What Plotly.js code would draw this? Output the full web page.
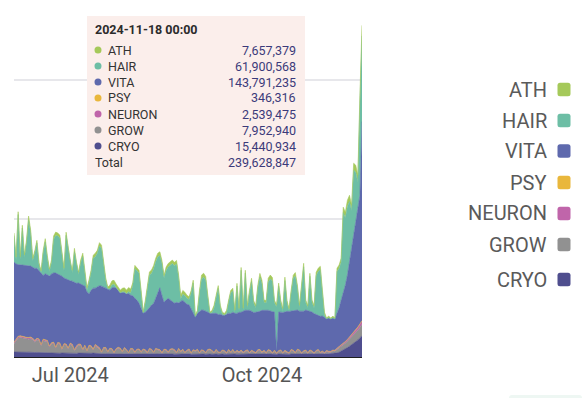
<!DOCTYPE html>
<html><head><meta charset="utf-8">
<script src="https://cdn.plot.ly/plotly-3.0.1.min.js"></script>
<style>html,body{margin:0;padding:0;background:#fff;}#chart{width:588px;height:398px;}</style>
</head><body><div id="chart"></div>
<script>
// ---- data (values in millions) ----
const startDate = '2024-06-04';
const seriesNames = ['ATH','HAIR','VITA','PSY','NEURON','GROW','CRYO'];
const seriesColors = ['#a5c95a','#6dbea5','#5e69ad','#e9b73c','#c065aa','#919191','#4f4e8e'];

const ATH = [2.0,2.2,2.0,2.0,2.0,2.0,1.8,3.0,2.0,1.8, 1.8,1.8,1.8,1.2,1.8,2.5,1.8,1.8,1.8,2.5,
 2.5,2.2,2.0,1.8,2.0,2.2,2.0,1.8,2.0,2.5, 1.8,2.0,2.0,2.5,1.8,2.0,1.8,1.8,2.2,2.5,
 2.2,2.5,2.2,1.8,2.0,1.2,2.5,3.0,2.8,2.5, 2.5,2.0,2.5,3.0,2.5,3.0,2.8,2.0,2.2,2.0,
 2.0,1.8,0.7,1.8,2.0,2.2,2.5,2.5,2.5,2.8, 2.8,2.2,2.0,2.5,2.5,2.2,2.5,2.5,2.5,2.0,
 2.5,2.8,2.5,2.2,2.0,2.0,2.0,1.0,1.5,2.5, 2.8,2.8,2.5,1.8,0.7,1.5,2.0,1.8,2.0,1.8,
 1.5,1.2,2.0,1.8,1.8,1.8,1.5,2.0,1.8,2.0, 1.5,2.0,2.0,1.8,2.5,1.8,1.8,2.0,2.8,2.5,
 1.8,1.8,2.5,2.8,2.5,1.8,1.5,2.2,1.8,1.8, 2.5,1.8,1.5,1.8,2.2,2.5,2.0,1.8,2.0,2.5,
 1.8,1.8,2.2,1.8,1.8,2.5,2.5,2.5,2.0,2.0, 0.6,1.3,0.6,1.3,0.6,2.5,2.5,3.0,4.0,4.0,
 4.5,4.5,4.0,5.0,5.0,5.0,6.0,7.657379];

const HAIR = [19.0,2.9,36.2,3.8,26.8,5.9,16.9,33.0,23.9,4.7, 11.2,18.4,3.9,0.3,16.2,22.8,11.9,3.2,8.3,24.2,
 27.1,27.4,26.8,17.0,5.2,31.7,23.2,11.9,6.0,22.0, 13.3,5.9,15.3,20.6,9.8,0.9,8.3,12.7,21.6,22.7,
 24.5,28.6,27.4,16.2,5.2,0.2,1.1,2.0,2.3,0.4, 0.4,0.1,0.4,0.6,0.3,1.3,1.6,7.4,21.6,21.1,
 21.8,11.1,0.1,6.8,16.0,23.7,22.8,24.9,26.3,25.3, 23.2,23.1,17.5,21.3,22.7,25.2,27.8,27.0,27.8,18.2,
 1.8,4.4,4.7,4.3,3.8,10.9,21.1,0.4,0.7,12.6, 22.5,23.9,22.7,10.4,0.1,0.7,3.8,11.2,18.9,4.7,
 0.7,0.2,0.9,7.6,14.8,15.5,0.7,19.7,1.1,30.4, 0.7,26.9,1.6,12.6,21.3,6.8,3.2,17.4,24.6,19.2,
 5.4,5.4,20.6,23.2,22.0,6.8,32.2,18.7,6.8,1.1, 22.7,6.1,0.7,13.3,23.1,24.9,16.0,2.5,20.4,32.1,
 5.4,1.8,25.2,6.8,4.0,27.8,31.4,33.6,16.7,1.6, 0.1,0.2,0.1,0.2,0.1,30.0,28.5,27.3,58.0,48.7,
 49.6,43.9,28.5,49.1,38.3,20.2,66.1,61.900568];

const VITA = [57.9,54.5,51.8,51.3,51.6,51.1,51.5,51.7,51.3,51.3, 52.1,50.6,49.4,51.7,46.0,47.8,47.5,50.6,49.8,50.0,
 53.5,49.5,49.1,52.3,47.4,46.9,49.0,45.0,45.7,48.7, 45.3,44.0,43.6,46.3,42.6,42.5,37.1,40.2,44.0,40.7,
 42.9,44.9,47.4,43.7,43.2,45.1,42.0,44.0,46.9,43.8, 40.8,39.8,42.6,39.6,40.2,42.6,38.5,38.2,38.8,35.5,
 33.0,31.4,25.9,27.1,30.3,29.4,31.9,35.2,36.3,41.1, 44.8,41.3,33.9,35.8,38.8,35.5,33.7,33.6,36.1,32.8,
 36.1,35.3,36.3,33.2,31.9,32.1,27.1,24.3,25.9,29.8, 28.7,29.1,29.6,27.1,25.9,26.7,28.4,26.1,27.0,27.6,
 25.1,25.5,27.7,26.3,27.9,26.9,28.3,26.7,28.7,27.3, 29.7,29.3,28.5,30.6,28.2,28.2,29.1,27.3,27.6,30.1,
 29.1,30.5,28.5,28.4,29.9,27.5,1.2,27.9,27.3,29.1, 27.7,29.2,29.9,27.8,28.9,30.4,28.3,28.0,29.9,28.6,
 28.9,30.5,28.0,28.1,28.4,26.2,24.9,26.0,25.3,25.6, 22.8,24.0,23.4,23.1,22.6,25.4,28.0,32.7,36.3,40.6,
 46.5,54.1,61.2,68.2,75.6,84.5,93.0,143.791235];

const PSY = [0.3,0.3,0.35,0.3,0.3,0.28,0.3,0.32,0.3,0.28,0.3,0.3,0.27,0.25,0.3,0.3,0.28,0.26,
 0.25,0.26,0.24,0.25,0.27,0.23,0.25,0.26,0.24,0.25,0.25,0.22,0.24,0.26,0.25,0.23,0.25,0.22,0.24,0.25,0.23,0.26,0.24,
 0.22,0.2,0.21,0.22,0.19,0.2,0.21,0.18,0.2,0.22, 0.21,0.19,0.2,0.21,0.18,0.2,0.22,0.19,0.2,0.21,
 0.19,0.2,0.21,0.18,0.2,0.21,0.19,0.2,0.22,0.21, 0.18,0.2,0.21,0.19,0.2,0.21,0.2,0.18,0.21,0.19,
 0.2,0.18,0.2,0.21,0.18,0.2,0.19,0.2,0.18,0.2, 0.2,0.19,0.21,0.2,0.18,0.19,0.2,0.18,0.19,0.2,
 0.2,0.18,0.2,0.19,0.2,0.18,0.2,0.19,0.2,0.18, 0.2,0.19,0.18,0.2,0.19,0.18,0.2,0.21,0.19,0.2,
 0.18,0.2,0.21,0.18,0.2,0.17,0.2,0.21,0.18,0.2, 0.19,0.18,0.2,0.21,0.19,0.2,0.21,0.18,0.2,0.21,
 0.18,0.2,0.21,0.19,0.2,0.21,0.19,0.2,0.18,0.2,
 0.2,0.2,0.2,0.2,0.2,0.2,0.22,0.24,0.25,0.26,0.27,0.28,0.3,0.31,0.32,0.33,0.346316];

const NEURON = [0.8,0.9,1.0,1.0,0.9,1.0,0.9,0.9,1.0,0.8,0.9,0.9,0.8,0.7,0.8,0.9,0.8,0.7,
 0.6,0.7,0.5,0.6,0.7,0.5,0.6,0.6,0.5,0.7,0.6,0.5,0.6,0.6,0.7,0.5,0.6,0.4,0.6,0.6,0.5,0.7,0.6,
 0.5,0.3,0.4,0.5,0.3,0.4,0.5,0.3,0.4,0.5, 0.4,0.3,0.5,0.4,0.3,0.4,0.5,0.3,0.4,0.4,
 0.3,0.4,0.4,0.3,0.5,0.4,0.3,0.4,0.4,0.5, 0.3,0.4,0.5,0.3,0.4,0.4,0.5,0.3,0.4,0.3,
 0.4,0.3,0.4,0.5,0.3,0.4,0.3,0.4,0.3,0.4, 0.4,0.3,0.4,0.4,0.3,0.3,0.4,0.3,0.3,0.4,
 0.4,0.3,0.4,0.3,0.4,0.3,0.4,0.3,0.4,0.3, 0.4,0.4,0.3,0.4,0.3,0.3,0.4,0.4,0.3,0.4,
 0.3,0.4,0.4,0.3,0.4,0.3,0.4,0.4,0.3,0.4, 0.3,0.3,0.4,0.4,0.3,0.4,0.4,0.3,0.4,0.4,
 0.3,0.4,0.4,0.3,0.4,0.4,0.3,0.4,0.3,0.4,
 0.4,0.4,0.5,0.5,0.6,0.7,0.8,0.9,1.0,1.1,1.3,1.4,1.6,1.8,2.0,2.3,2.539475];

const GROW = [6.0,8.0,10.0,10.5,10.2,10.0,9.6,9.4,9.8,9.0,7.5,9.0,8.8,5.0,8.6,8.2,7.8,4.0,
 6.5,7.0,3.5,6.8,6.5,2.5,6.0,5.8,3.0,6.2,5.5,1.8,4.5,5.8,5.5,2.0,5.0,1.5,4.8,4.5,2.2,5.5,4.0,
 3.5,1.0,4.0,3.8,1.2,3.5,3.0,0.8,3.2,4.0, 3.6,1.5,3.8,2.5,0.8,3.4,3.0,1.0,2.8,3.2,
 1.2,3.0,2.6,0.8,3.2,2.8,1.0,3.5,3.0,2.2, 0.6,3.0,2.5,1.0,2.8,3.2,2.6,0.8,3.4,1.5,
 3.0,0.6,2.2,2.8,0.5,2.6,1.8,3.0,0.6,2.4, 2.0,0.8,2.6,3.0,2.2,0.5,2.8,1.2,0.6,2.4,
 2.0,0.5,2.6,1.0,2.8,0.6,2.2,1.0,2.4,0.7, 1.8,2.6,0.5,2.2,1.5,0.6,2.4,2.8,1.0,2.0,
 0.6,2.6,2.0,0.5,2.2,0.3,1.8,2.4,0.6,2.0, 1.2,0.5,2.6,2.2,0.7,2.8,2.4,0.5,1.8,2.2,
 0.6,2.4,1.6,0.5,2.0,2.6,0.8,1.5,0.5,1.8,
 1.2,1.0,1.8,1.5,2.5,3.0,3.2,3.8,4.2,4.5,5.0,5.5,6.0,6.5,7.0,7.5,7.95294];

const CRYO = [3.6,3.5,3.6,3.5,3.4,3.5,3.4,3.5,3.3,3.4,3.2,3.3,3.2,3.1,3.2,3.0,3.1,3.0,
 2.9,2.8,2.9,2.8,2.7,2.9,2.8,2.7,2.8,2.9,2.7,2.8,2.6,2.8,2.7,2.9,2.7,2.6,2.8,2.7,2.8,2.6,2.7,
 2.4,2.3,2.2,2.4,2.3,2.2,2.3,2.1,2.2,2.3, 2.2,2.1,2.3,2.2,2.0,2.2,2.3,2.1,2.2,2.0,
 2.1,2.2,2.0,2.1,2.3,2.2,2.0,2.1,2.2,2.3, 2.1,2.0,2.2,2.1,2.3,2.2,2.0,2.1,2.2,2.1,
 2.0,2.2,2.1,2.3,2.0,2.1,2.2,2.0,2.1,2.2, 2.1,2.0,2.2,2.1,2.0,2.2,2.1,2.0,2.2,2.1,
 2.0,2.1,2.2,2.0,2.1,2.2,2.0,2.1,2.0,2.2, 2.1,2.0,2.2,2.1,2.0,2.1,2.2,2.0,2.1,2.2,
 2.0,2.1,2.2,2.0,2.1,2.0,2.2,2.1,2.0,2.2, 2.1,2.0,2.2,2.1,2.0,2.2,2.1,2.0,2.1,2.2,
 2.0,2.1,2.2,2.0,2.1,2.2,2.1,2.2,2.1,2.3,
 2.3,2.4,2.5,2.6,3.0,3.5,4.2,5.0,5.8,6.8,7.8,8.8,9.8,11.0,12.3,13.8,15.440934];

const seriesValues = {ATH, HAIR, VITA, PSY, NEURON, GROW, CRYO};

// ---- dates (consecutive days) ----
const n = ATH.length;
const dates = [];
{
  const t0 = Date.parse(startDate + 'T00:00:00Z');
  for (let i = 0; i < n; i++) dates.push(new Date(t0 + i * 86400000).toISOString().slice(0, 10));
}

// ---- geometry helpers ----
const W = 588, H = 398, ML = 14, MR = 226, MT = 11, MB = 41;
const PW = W - ML - MR, PH = H - MT - MB;
const px = x => (x - ML) / PW;
const py = y => (H - MB - y) / PH;

// ---- traces (stack bottom -> top) ----
const stackOrder = seriesNames.slice().reverse();
const traces = stackOrder.map(name => {
  const idx = seriesNames.indexOf(name);
  return {
    type: 'scatter', mode: 'lines', name: name,
    x: dates, y: seriesValues[name].map(v => v * 1e6),
    stackgroup: 'one',
    line: {color: seriesColors[idx], width: 0.6, shape: 'linear'},
    fillcolor: seriesColors[idx],
    hoverinfo: 'skip', showlegend: false
  };
});

// ---- tooltip & legend built from data ----
const fmt = v => Math.round(v).toLocaleString('en-US');
const shapes = [];
const annotations = [];
const tipFont = {family: 'Roboto, sans-serif', size: 12.5, color: '#333333'};
const valFont = {family: 'Roboto, sans-serif', size: 12.5, color: '#3b3a7a'};

shapes.push({type: 'rect', xref: 'paper', yref: 'paper', layer: 'above',
  x0: px(87), x1: px(305), y0: py(175), y1: py(16),
  fillcolor: '#fbeeeb', line: {width: 0}});

const lastDate = dates[n - 1] + ' 00:00';
annotations.push({xref: 'paper', yref: 'paper', x: px(93), y: py(29.5), xanchor: 'left', yanchor: 'middle',
  text: '<b>' + lastDate + '</b>', showarrow: false, font: {family: 'Roboto, sans-serif', size: 12.5, color: '#2b2b2b'}});

let total = 0;
seriesNames.forEach((name, k) => {
  const v = seriesValues[name][n - 1] * 1e6;
  total += Math.round(v);
  const yc = 50 + 16 * k;
  shapes.push({type: 'circle', xref: 'paper', yref: 'paper', layer: 'above',
    x0: px(94.5), x1: px(101.5), y0: py(yc + 3.5), y1: py(yc - 3.5),
    fillcolor: seriesColors[k], line: {width: 0}});
  annotations.push({xref: 'paper', yref: 'paper', x: px(105.5), y: py(yc), xanchor: 'left', yanchor: 'middle',
    text: name, showarrow: false, font: tipFont});
  annotations.push({xref: 'paper', yref: 'paper', x: px(298), y: py(yc), xanchor: 'right', yanchor: 'middle',
    text: fmt(v), showarrow: false, font: valFont});
});
annotations.push({xref: 'paper', yref: 'paper', x: px(93), y: py(162), xanchor: 'left', yanchor: 'middle',
  text: 'Total', showarrow: false, font: tipFont});
annotations.push({xref: 'paper', yref: 'paper', x: px(298), y: py(162), xanchor: 'right', yanchor: 'middle',
  text: fmt(total), showarrow: false, font: valFont});

// legend (labels right-aligned, swatch on the right)
const legendY = [89.5, 120.5, 151, 182.5, 213.5, 244.5, 279.5];
function roundRect(x0, y0, x1, y1, r) {
  const rx = r / PW, ry = r / PH;
  const X0 = px(x0), X1 = px(x1), Y0 = py(y1), Y1 = py(y0);
  return `M ${X0 + rx},${Y0} L ${X1 - rx},${Y0} Q ${X1},${Y0} ${X1},${Y0 + ry} L ${X1},${Y1 - ry} Q ${X1},${Y1} ${X1 - rx},${Y1} L ${X0 + rx},${Y1} Q ${X0},${Y1} ${X0},${Y1 - ry} L ${X0},${Y0 + ry} Q ${X0},${Y0} ${X0 + rx},${Y0} Z`;
}
seriesNames.forEach((name, k) => {
  const yc = legendY[k];
  annotations.push({xref: 'paper', yref: 'paper', x: px(548.5), y: py(yc), xanchor: 'right', yanchor: 'middle',
    text: name, showarrow: false, font: {family: 'Roboto, sans-serif', size: 20, color: '#5a5a5a'}});
  shapes.push({type: 'path', xref: 'paper', yref: 'paper', layer: 'above',
    path: roundRect(557.5, yc - 6.7, 570.5, yc + 6.7, 2.5),
    fillcolor: seriesColors[k], line: {width: 0}});
});

// faint element at the bottom right
shapes.push({type: 'path', xref: 'paper', yref: 'paper', layer: 'above',
  path: roundRect(509, 395, 582, 404, 3), fillcolor: '#eef7f3', line: {width: 0}});

const layout = {
  width: W, height: H,
  margin: {l: ML, r: MR, t: MT, b: MB, pad: 0},
  paper_bgcolor: '#ffffff', plot_bgcolor: '#ffffff',
  showlegend: false,
  xaxis: {type: 'date', range: [dates[0], dates[n - 1]], tickformat: '%b %Y',
    tick0: '2024-01-01', dtick: 'M3', ticks: '', showgrid: false, zeroline: false,
    showline: true, linecolor: '#1e1e1e', linewidth: 1,
    tickfont: {family: 'Roboto, sans-serif', size: 20, color: '#555555'}, fixedrange: true},
  yaxis: {range: [0, 250e6], tick0: 0, dtick: 100e6, showticklabels: false,
    showgrid: true, gridcolor: '#e7e7eb', gridwidth: 2, zeroline: false, showline: false, fixedrange: true},
  shapes: shapes, annotations: annotations, hovermode: false
};

Plotly.newPlot('chart', traces, layout, {staticPlot: true, displayModeBar: false});
</script>
</body></html>
